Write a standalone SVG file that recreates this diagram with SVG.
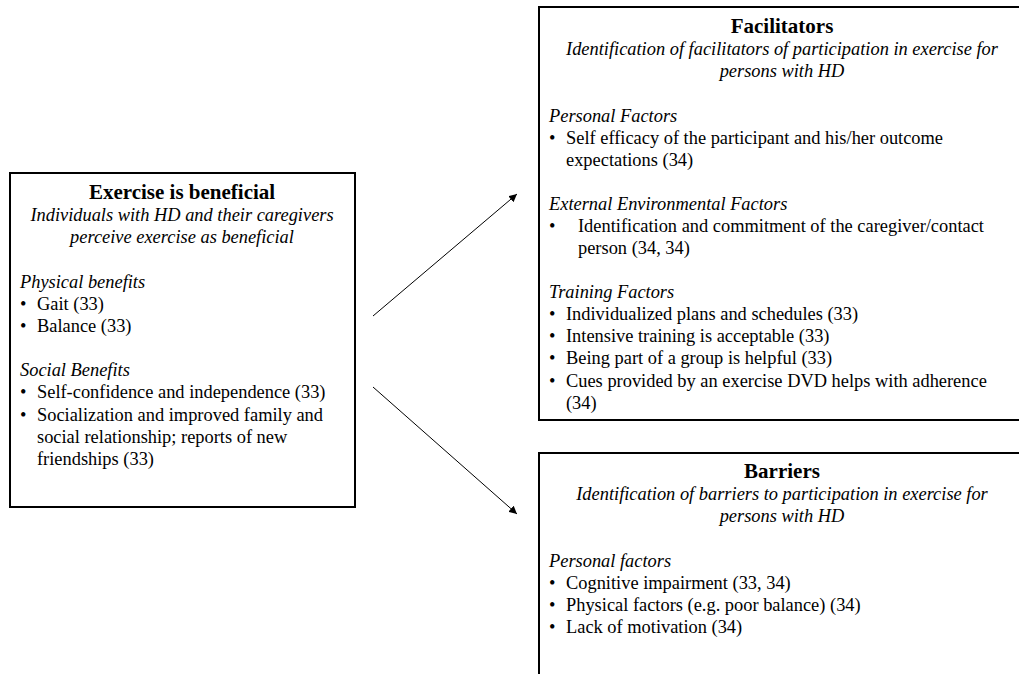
<svg xmlns="http://www.w3.org/2000/svg" width="1019" height="674" viewBox="0 0 1019 674">
<style>
text{font-family:"Liberation Serif","Times New Roman",serif;font-size:18.4px;fill:#000}
.t{font-weight:bold;font-size:21px;text-anchor:middle}
.s{font-style:italic;text-anchor:middle}
.h{font-style:italic}
.box{fill:#fff;stroke:#000;stroke-width:2}
.con{stroke:#000;stroke-width:1;fill:none}
</style>
<defs>
<marker id="ah" viewBox="0 0 10 10" refX="10" refY="5" markerWidth="8" markerHeight="8" markerUnits="userSpaceOnUse" orient="auto"><path d="M0,0 L10,5 L0,10 z" fill="#000"/></marker>
</defs>
<rect width="1019" height="674" fill="#fff"/>
<g id="connectors">
<line class="con" x1="373" y1="316" x2="517" y2="194" marker-end="url(#ah)"/>
<line class="con" x1="373" y1="387" x2="517" y2="514" marker-end="url(#ah)"/>
</g>
<g id="exercise">
<rect class="box" x="10" y="173" width="345" height="334"/>
<text class="t" x="182" y="199">Exercise is beneficial</text>
<text class="s" x="182" y="221">Individuals with HD and their caregivers</text>
<text class="s" x="182" y="243">perceive exercise as beneficial</text>
<text class="h" x="20" y="288">Physical benefits</text>
<text x="20" y="310">•</text><text x="37" y="310">Gait (33)</text>
<text x="20" y="332">•</text><text x="37" y="332">Balance (33)</text>
<text class="h" x="20" y="376">Social Benefits</text>
<text x="20" y="398">•</text><text x="37" y="398">Self-confidence and independence (33)</text>
<text x="20" y="421">•</text><text x="37" y="421">Socialization and improved family and</text>
<text x="37" y="443">social relationship; reports of new</text>
<text x="37" y="465">friendships (33)</text>
</g>
<g id="facilitators">
<rect class="box" x="539" y="7" width="490" height="413"/>
<text class="t" x="782" y="33">Facilitators</text>
<text class="s" x="782" y="55">Identification of facilitators of participation in exercise for</text>
<text class="s" x="782" y="77">persons with HD</text>
<text class="h" x="549" y="122">Personal Factors</text>
<text x="549" y="144">•</text><text x="566" y="144">Self efficacy of the participant and his/her outcome</text>
<text x="566" y="166">expectations (34)</text>
<text class="h" x="549" y="210">External Environmental Factors</text>
<text x="549" y="232">•</text><text x="578" y="232">Identification and commitment of the caregiver/contact</text>
<text x="578" y="254">person (34, 34)</text>
<text class="h" x="549" y="298">Training Factors</text>
<text x="549" y="320">•</text><text x="566" y="320">Individualized plans and schedules (33)</text>
<text x="549" y="342">•</text><text x="566" y="342">Intensive training is acceptable (33)</text>
<text x="549" y="364">•</text><text x="566" y="364">Being part of a group is helpful (33)</text>
<text x="549" y="387">•</text><text x="566" y="387">Cues provided by an exercise DVD helps with adherence</text>
<text x="566" y="409">(34)</text>
</g>
<g id="barriers">
<rect class="box" x="539" y="453" width="490" height="240"/>
<text class="t" x="782" y="478">Barriers</text>
<text class="s" x="782" y="500">Identification of barriers to participation in exercise for</text>
<text class="s" x="782" y="522">persons with HD</text>
<text class="h" x="549" y="567">Personal factors</text>
<text x="549" y="589">•</text><text x="566" y="589">Cognitive impairment (33, 34)</text>
<text x="549" y="611">•</text><text x="566" y="611">Physical factors (e.g. poor balance) (34)</text>
<text x="549" y="633">•</text><text x="566" y="633">Lack of motivation (34)</text>
</g>
</svg>
